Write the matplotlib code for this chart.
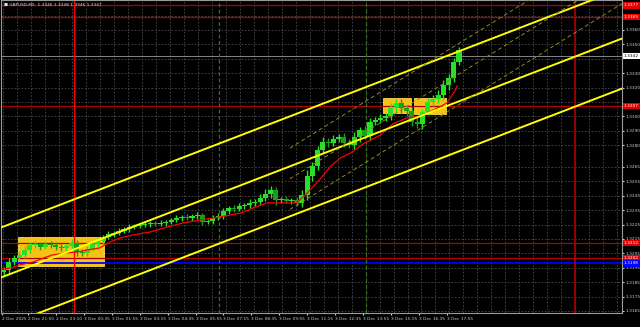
import matplotlib
matplotlib.use("Agg")
import matplotlib.pyplot as plt
import matplotlib.transforms as mtransforms
from matplotlib.patches import Rectangle

# data: GBPUSD M5, read as 15-minute candles (3 bars each)
first_open = 1.31920
closes = [1.31935, 1.31990, 1.32018, 1.32039, 1.32073, 1.32108, 1.32115, 1.32094, 1.32115, 1.32108,
          1.32094, 1.32087, 1.32101, 1.32122, 1.32059, 1.32053, 1.32080, 1.32115, 1.32136, 1.32164,
          1.32184, 1.32191, 1.32205, 1.32219, 1.32233, 1.32240, 1.32247, 1.32254, 1.32261, 1.32254,
          1.32261, 1.32268, 1.32282, 1.32295, 1.32302, 1.32295, 1.32309, 1.32316, 1.32268, 1.32275,
          1.32295, 1.32309, 1.32344, 1.32365, 1.32358, 1.32379, 1.32386, 1.32400, 1.32406, 1.32434,
          1.32462, 1.32490, 1.32420, 1.32427, 1.32413, 1.32418, 1.32400, 1.32455, 1.32587, 1.32656,
          1.32767, 1.32823, 1.32816, 1.32844, 1.32858, 1.32816, 1.32802, 1.32858, 1.32906, 1.32865,
          1.32962, 1.32976, 1.32989, 1.33003, 1.33059, 1.33094, 1.33059, 1.33038, 1.32962, 1.32948,
          1.33031, 1.33101, 1.33121, 1.33149, 1.33218, 1.33267, 1.33378, 1.33460]
# wick sizes in points (0.00001)
wick_hi = [20, 28, 18, 24, 30, 22, 20, 16, 24, 20,
           18, 24, 16, 28, 20, 18, 24, 20, 18, 16,
           20, 15, 18, 16, 20, 15, 16, 18, 15, 16,
           18, 16, 15, 20, 16, 18, 16, 20, 15, 16,
           18, 20, 24, 16, 18, 20, 16, 24, 20, 28,
           32, 24, 20, 16, 18, 16, 20, 35, 40, 30,
           28, 35, 24, 30, 20, 24, 28, 32, 24, 30,
           24, 20, 28, 24, 35, 30, 24, 20, 28, 32,
           24, 30, 28, 35, 32, 30, 28, 20]
wick_lo = [30, 20, 24, 16, 20, 18, 24, 20, 16, 24,
           20, 18, 24, 16, 28, 24, 20, 16, 18, 20,
           16, 18, 15, 16, 18, 16, 15, 16, 18, 15,
           16, 18, 16, 15, 18, 16, 20, 18, 24, 16,
           18, 16, 20, 24, 18, 16, 20, 18, 24, 20,
           24, 28, 32, 20, 16, 20, 24, 28, 35, 32,
           30, 24, 28, 20, 24, 30, 24, 28, 32, 24,
           28, 24, 20, 24, 30, 28, 32, 35, 30, 28,
           32, 24, 30, 28, 35, 32, 30, 24]

# red moving average (bar index, price)
ma_bars = [1, 6, 11, 19, 25, 30, 38, 44, 50, 57, 63, 69, 76, 86, 96, 105, 115, 122, 132, 138,
           145, 153, 162, 170, 176, 183, 189, 195, 201, 208, 218, 225, 233, 241, 246, 252, 256, 260, 262]
ma_vals = [1.31942, 1.31948, 1.31969, 1.31990, 1.32018, 1.32039, 1.32053, 1.32059, 1.32073, 1.32087,
           1.32129, 1.32157, 1.32177, 1.32198, 1.32233, 1.32261, 1.32282, 1.32295, 1.32316, 1.32330,
           1.32365, 1.32400, 1.32400, 1.32400, 1.32469, 1.32559, 1.32649, 1.32712, 1.32747, 1.32809,
           1.32871, 1.32948, 1.32989, 1.33003, 1.33031, 1.33066, 1.33094, 1.33163, 1.33212]

# regression channel (thick) and narrower dashed channel
chan_x = [0.5, 356.5]
chan_upper = [1.32229, 1.33888]
chan_mid = [1.31882, 1.33541]
chan_lower = [1.31535, 1.33194]
dash_x = [166.1, 356.4]
dash_upper = [1.32780, 1.34208]
dash_mid = [1.32567, 1.33996]
dash_lower = [1.32355, 1.33783]

# levels
red_levels = [1.3377, 1.3369, 1.3307, 1.3212, 1.3202]
blue_level = 1.3198
price_line = 1.3342

# yellow boxes: start bar, end bar, bottom, top
box_start = [10.3, 219.4, 237.2]
box_end = [59.6, 235.5, 255.5]
box_low = [1.31962, 1.33024, 1.33017]
box_high = [1.32164, 1.33128, 1.33128]

# vertical markers
red_vlines = [42.4]
darkred_vlines = [329.5]
green_vlines = [125.5, 209.5]

ytick_vals = [1.3360, 1.3350, 1.3330, 1.3320, 1.3300, 1.3290, 1.3280, 1.3265, 1.3255, 1.3245,
              1.3235, 1.3225, 1.3215, 1.3205, 1.3195, 1.3185, 1.3175, 1.3165]
ygrid_extra = [1.3370, 1.3340, 1.3310]
xtick_bars = [1, 16, 32, 48, 64, 80, 96, 112, 128, 144, 160, 176, 192, 208, 224, 240, 256]
xlabels = ["2 Dec 2025", "2 Dec 21:50", "2 Dec 23:10", "3 Dec 00:35", "3 Dec 01:55", "3 Dec 03:15",
           "3 Dec 04:35", "3 Dec 05:55", "3 Dec 07:15", "3 Dec 08:35", "3 Dec 09:55", "3 Dec 11:15",
           "3 Dec 12:35", "3 Dec 13:55", "3 Dec 15:15", "3 Dec 16:35", "3 Dec 17:55"]

FS = 3.1

fig = plt.figure(figsize=(6.4, 3.27), dpi=100, facecolor="black")
ax = fig.add_axes([1 / 640, 14 / 327, 621 / 640, 313 / 327])
ax.set_facecolor("black")
ax.set_xlim(0.53, 356.4)
ax.set_ylim(1.31636, 1.33808)

# grid
for v in ytick_vals + ygrid_extra:
    ax.axhline(v, color="#4a4a4a", lw=0.6, ls=(0, (2, 2)), zorder=0)
b = 1.5
while b < 357:
    ax.axvline(b, color="#4a4a4a", lw=0.6, ls=(0, (2, 2)), zorder=0)
    b += 8

# yellow boxes
for s, e, lo, hi in zip(box_start, box_end, box_low, box_high):
    ax.add_patch(Rectangle((s, lo), e - s, hi - lo, facecolor="#f5c316", edgecolor="#ffd84a",
                           lw=0.6, zorder=1))

# levels
for v in red_levels:
    ax.axhline(v, color="#b00000", lw=0.9, zorder=1.5)
ax.axhline(blue_level, color="#0000ff", lw=1.3, zorder=1.5)
ax.axhline(price_line, color="#9a9a9a", lw=0.6, zorder=1.5)
for b in red_vlines:
    ax.axvline(b, color="#ff0000", lw=1.0, zorder=1.5)
for b in darkred_vlines:
    ax.axvline(b, color="#a00000", lw=1.3, zorder=1.5)
for b in green_vlines:
    ax.axvline(b, color="#3c6e1e", lw=0.9, ls=(0, (3, 2)), zorder=1.5)

# candles
opens = [first_open] + closes[:-1]
for k, (o, c) in enumerate(zip(opens, closes)):
    x = 2 + 3 * k
    col = "#27e027" if c >= o else "#15a015"
    lo = min(o, c)
    h = max(abs(c - o), 0.00004)
    ax.vlines(x, lo - wick_lo[k] * 1e-5, max(o, c) + wick_hi[k] * 1e-5, color=col, lw=1.0, zorder=2)
    ax.bar(x, h, width=2.9, bottom=lo, color=col, lw=0, zorder=2)

# moving average
ax.plot(ma_bars, ma_vals, color="#ff0000", lw=0.9, zorder=3)

# channels
for line in (chan_upper, chan_mid, chan_lower):
    ax.plot(chan_x, line, color="#ffff00", lw=1.4, zorder=4)
for line in (dash_upper, dash_mid, dash_lower):
    ax.plot(dash_x, line, color="#8a8a20", lw=0.7, ls=(0, (4, 3)), zorder=4)

# axes
for sp in ax.spines.values():
    sp.set_color("#9a9a9a")
    sp.set_linewidth(0.8)
ax.yaxis.tick_right()
ax.set_yticks(ytick_vals)
ax.set_yticklabels([f"{v:.4f}" for v in ytick_vals])
ax.set_xticks(xtick_bars)
ax.set_xticklabels(xlabels, ha="left")
ax.tick_params(axis="both", labelsize=FS, colors="#cfcfcf", length=1.5, pad=1.2)

# price boxes on the scale
trans = mtransforms.blended_transform_factory(ax.transAxes, ax.transData)
for v in red_levels:
    ax.text(1.003, v, f"{v:.4f}", transform=trans, fontsize=FS, color="white", va="center",
            ha="left", bbox=dict(boxstyle="square,pad=0.25", fc="#e00000", ec="none"), clip_on=False)
ax.text(1.003, blue_level, f"{blue_level:.4f}", transform=trans, fontsize=FS, color="white",
        va="center", ha="left", bbox=dict(boxstyle="square,pad=0.25", fc="#0000ff", ec="none"),
        clip_on=False)
ax.text(1.003, price_line, f"{price_line:.4f}", transform=trans, fontsize=FS, color="black",
        va="center", ha="left", bbox=dict(boxstyle="square,pad=0.25", fc="white", ec="none"),
        clip_on=False)

fig.text(4 / 640, 1 - 5 / 327, "\u25a0 GBPUSD,M5  1.3346 1.3348 1.3346 1.3347", fontsize=FS,
         color="#dddddd", va="center", ha="left")

fig.savefig("out.png", dpi=100, facecolor="black")
